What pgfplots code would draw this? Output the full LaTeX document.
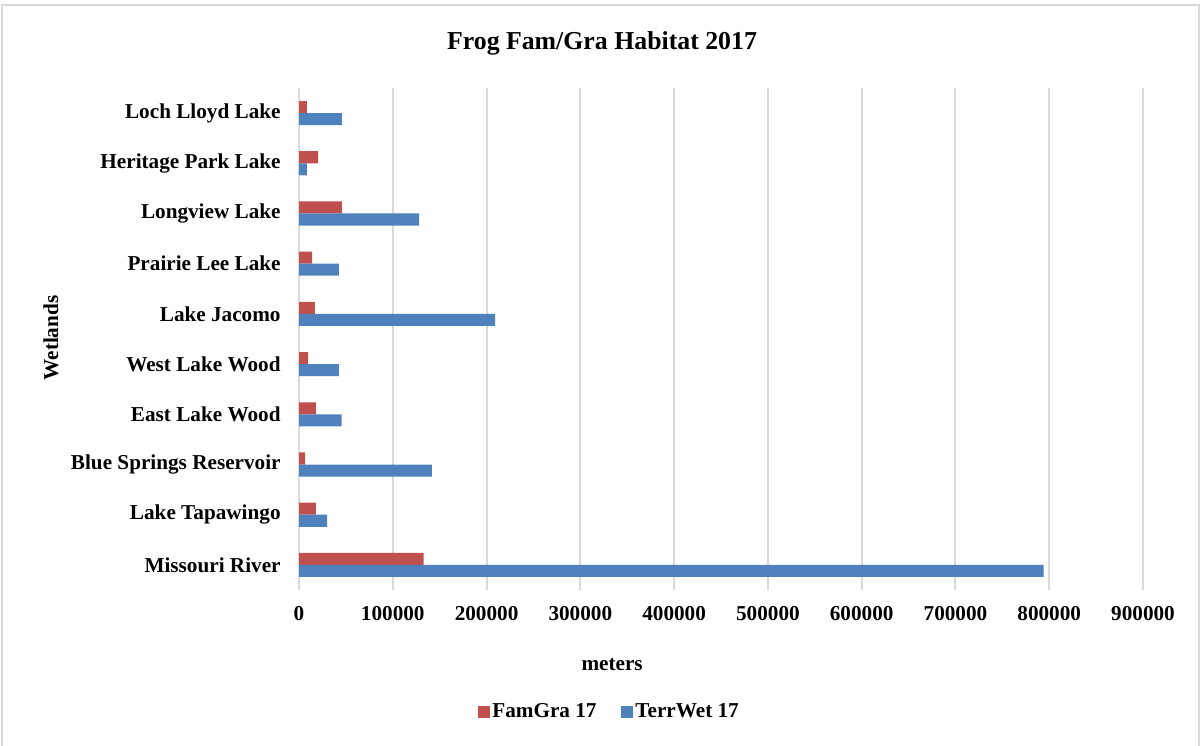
\documentclass[border=0pt]{standalone}
\usepackage{fontspec}
\setmainfont{Liberation Serif}
\usepackage{pgfplots}
\pgfplotsset{compat=1.18}
\definecolor{famred}{HTML}{C0504D}
\definecolor{terrblue}{HTML}{4F81BD}
\definecolor{gridgray}{HTML}{D9D9D9}
\begin{document}
\begin{tikzpicture}
\useasboundingbox (0,0) rectangle (601pt,372.5pt);
\draw[gridgray, line width=0.8pt] (1pt,-2pt) rectangle (599.5pt,370pt);
\begin{axis}[
  at={(149.5pt,77.5pt)}, anchor=south west,
  scale only axis, width=422pt, height=251pt,
  xbar, bar width=0.24,
  xmin=0, xmax=900000, ymin=-0.5, ymax=9.5,
  axis line style={draw=none},
  major tick length=0pt,
  xmajorgrids, major grid style={gridgray, line width=1pt},
  scaled x ticks=false,
  xtick={0,100000,200000,300000,400000,500000,600000,700000,800000,900000},
  xticklabels={0,100000,200000,300000,400000,500000,600000,700000,800000,900000},
  ytick={0,1,2,3,4,5,6,7,8,9},
  yticklabels={Missouri River,Lake Tapawingo,Blue Springs Reservoir,East Lake Wood,West Lake Wood,Lake Jacomo,Prairie Lee Lake,Longview Lake,Heritage Park Lake,Loch Lloyd Lake},
  tick label style={font=\fontsize{10.6}{12}\selectfont\bfseries},
  xticklabel style={anchor=center, yshift=-12pt},
  yticklabel style={anchor=east, inner sep=0pt, xshift=-9pt},
  every axis title shift=0pt,
  title={Frog Fam/Gra Habitat 2017},
  title style={at={(axis description cs:0.359,1.088)}, anchor=center, font=\fontsize{12.9}{15}\selectfont\bfseries},
  xlabel={meters},
  xlabel style={at={(axis description cs:0.371,-0.148)}, anchor=center, font=\fontsize{10.6}{12}\selectfont\bfseries},
  ylabel={Wetlands},
  ylabel style={at={(axis description cs:-0.294,0.502)}, anchor=center, rotate=0, font=\fontsize{10.6}{12}\selectfont\bfseries},
  legend columns=2,
  legend style={at={(axis description cs:0.368,-0.243)}, anchor=center, draw=none, fill=none,
    font=\fontsize{10.6}{12}\selectfont\bfseries,
    /tikz/every even column/.append style={column sep=11pt},
    nodes={inner sep=1.2pt}},
  legend image code/.code={\fill[#1] (0pt,-3pt) rectangle (6pt,3pt);},
]
\addplot[fill=famred, draw=none, bar shift=0.12] coordinates {
(133000,0) (18000,1) (6600,2) (18000,3) (9800,4) (17000,5) (14000,6) (45800,7) (20300,8) (8500,9)};
\addlegendentry{FamGra 17}
\addplot[fill=terrblue, draw=none, bar shift=-0.12] coordinates {
(794000,0) (30000,1) (141700,2) (45500,3) (42600,4) (209000,5) (42600,6) (128000,7) (8500,8) (45800,9)};
\addlegendentry{TerrWet 17}
\end{axis}
\end{tikzpicture}
\end{document}
